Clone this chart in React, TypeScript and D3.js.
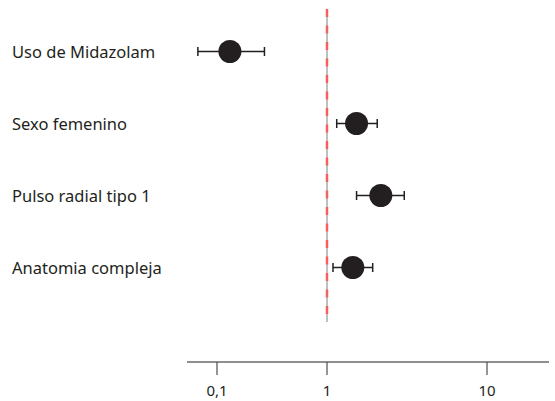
import { scaleLog, scalePoint } from 'd3';

const W = 555;
const H = 401;

const labels = ['Uso de Midazolam', 'Sexo femenino', 'Pulso radial tipo 1', 'Anatomia compleja'];
const estimates = [0.131, 1.53, 2.17, 1.45];
const lowers = [0.067, 1.15, 1.53, 1.09];
const uppers = [0.27, 2.06, 3.04, 1.93];
const tickValues = [0.1, 1, 10];
const tickLabels = ['0,1', '1', '10'];

const AXIS_Y = 362;
const FONT = '"Noto Sans", "Open Sans", sans-serif';

export default function App() {
  // the original axis isn't evenly spaced per decade, so use a piecewise log scale
  const x = scaleLog().domain([0.1, 1, 10]).range([217, 327, 487]);
  const y = scalePoint<string>().domain(labels).range([51.5, 267.5]);

  return (
    <svg width={W} height={H} style={{ position: 'absolute', left: 0, top: 0 }}>
      <rect width={W} height={H} fill="#fff" />

      {/* reference line at 1 */}
      <line x1={x(1)} x2={x(1)} y1={9} y2={322} stroke="#808080" strokeWidth={1} />
      <line
        x1={x(1)}
        x2={x(1)}
        y1={9}
        y2={322}
        stroke="#ff4d4d"
        strokeOpacity={0.85}
        strokeWidth={2.5}
        strokeDasharray="8 8.5"
      />

      {labels.map((lab, i) => {
        const cy = y(lab) as number;
        return (
          <g key={lab}>
            <text x={12} y={cy + 6} fontFamily={FONT} fontSize={16.5} fill="#231f20">
              {lab}
            </text>
            <line x1={x(lowers[i])} x2={x(uppers[i])} y1={cy} y2={cy} stroke="#231f20" strokeWidth={1.5} />
            <line x1={x(lowers[i])} x2={x(lowers[i])} y1={cy - 4.5} y2={cy + 4.5} stroke="#231f20" strokeWidth={1.5} />
            <line x1={x(uppers[i])} x2={x(uppers[i])} y1={cy - 4.5} y2={cy + 4.5} stroke="#231f20" strokeWidth={1.5} />
            <circle cx={x(estimates[i])} cy={cy} r={11.5} fill="#231f20" />
          </g>
        );
      })}

      {/* x axis */}
      <line x1={187} x2={549} y1={AXIS_Y} y2={AXIS_Y} stroke="#231f20" strokeWidth={1.2} />
      {tickValues.map((t, i) => (
        <g key={t}>
          <line x1={x(t)} x2={x(t)} y1={AXIS_Y} y2={AXIS_Y + 13} stroke="#4d4d4d" strokeWidth={1.2} />
          <text
            x={x(t)}
            y={AXIS_Y + 34}
            textAnchor="middle"
            fontFamily={FONT}
            fontSize={15}
            fill="#231f20"
          >
            {tickLabels[i]}
          </text>
        </g>
      ))}
    </svg>
  );
}
